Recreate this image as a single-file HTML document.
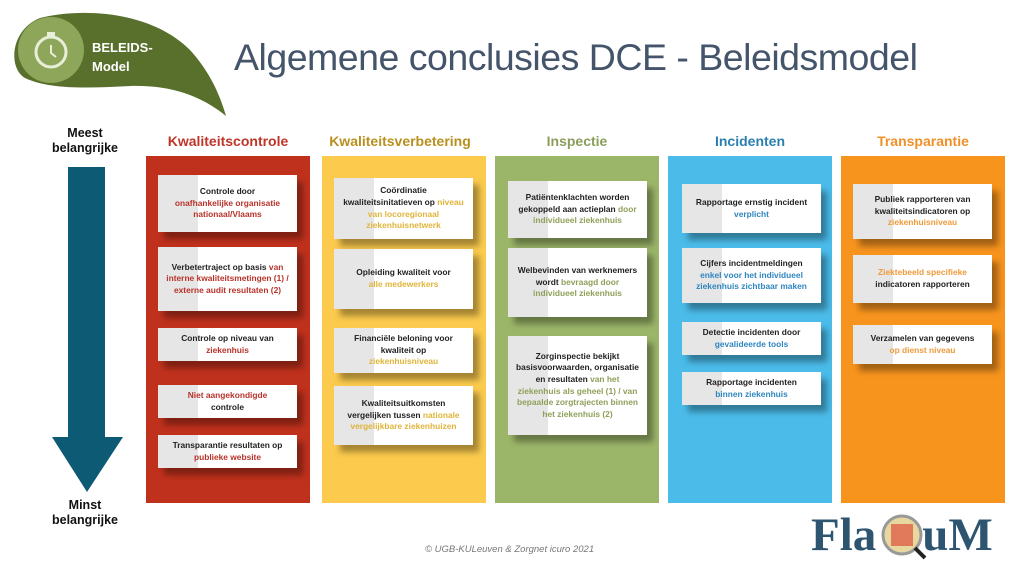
<!DOCTYPE html>
<html><head><meta charset="utf-8">
<style>
body{margin:0;width:1024px;height:576px;background:#fff;position:relative;overflow:hidden;font-family:"Liberation Sans",sans-serif;}
.abs{position:absolute;}
.col{position:absolute;top:156px;height:347px;width:164px;}
.hd{position:absolute;top:133px;width:164px;text-align:center;font-weight:bold;font-size:14px;}
.card{position:absolute;width:139px;background:linear-gradient(to right,#e6e6e6 0,#e6e6e6 40px,#fff 40px);box-shadow:6px 7px 6px rgba(0,0,0,0.35);display:flex;align-items:center;justify-content:center;text-align:center;font-weight:bold;font-size:8.4px;line-height:11.6px;color:#222;}
.card div{padding:0 7px;}
.r span{color:#b8322a}.y span{color:#e0b43a}.g span{color:#8fa05a}.b span{color:#2d86bf}.o span{color:#ef9a3a}
</style></head><body>

<svg class="abs" style="left:0;top:0" width="240" height="125">
<path d="M40,18 C80,8 150,10 190,50 C210,72 220,95 226,116 C200,95 170,85 130,86 C90,88 50,90 25,78 C8,68 10,30 40,18 Z" fill="#58702c"/>
<circle cx="51" cy="50" r="33" fill="#8ea65a"/>
<circle cx="51" cy="52" r="15" fill="none" stroke="#e8eed8" stroke-width="3"/>
<rect x="47" y="32" width="8" height="4" fill="#e8eed8"/>
<path d="M51,45 L51,53 L56,57" fill="none" stroke="#e8eed8" stroke-width="2"/>
<text x="92" y="52" fill="#fff" font-family="Liberation Sans" font-weight="bold" font-size="13">BELEIDS-</text>
<text x="92" y="71" fill="#fff" font-family="Liberation Sans" font-weight="bold" font-size="13">Model</text>
</svg>

<div class="abs" style="left:234px;top:36px;font-size:37.5px;color:#44546a;white-space:nowrap;letter-spacing:-0.5px;">Algemene conclusies DCE - Beleidsmodel</div>

<div class="abs" style="left:40px;top:126px;width:90px;text-align:center;font-weight:bold;font-size:12.5px;line-height:15px;color:#111;">Meest<br>belangrijke</div>
<div class="abs" style="left:40px;top:498px;width:90px;text-align:center;font-weight:bold;font-size:12.5px;line-height:15px;color:#111;">Minst<br>belangrijke</div>
<svg class="abs" style="left:0;top:0" width="140" height="576">
<path d="M68,167 L105,167 L105,437 L123,437 L87,492 L52,437 L68,437 Z" fill="#0c5a73"/>
</svg>

<div class="hd" style="left:146px;color:#c0352a">Kwaliteitscontrole</div>
<div class="hd" style="left:318px;color:#b8901e">Kwaliteitsverbetering</div>
<div class="hd" style="left:495px;color:#8a9d5a">Inspectie</div>
<div class="hd" style="left:668px;color:#2a7fb0">Incidenten</div>
<div class="hd" style="left:841px;color:#f0902a">Transparantie</div>

<div class="col" style="left:146px;background:#c0311d"></div>
<div class="col" style="left:322px;background:#fccb4e"></div>
<div class="col" style="left:495px;background:#9cb669"></div>
<div class="col" style="left:668px;background:#4bbcea"></div>
<div class="col" style="left:841px;background:#f7941e"></div>

<div class="card r" style="left:158px;top:175px;height:57px"><div>Controle door<br><span>onafhankelijke organisatie nationaal/Vlaams</span></div></div>
<div class="card r" style="left:158px;top:247px;height:64px"><div>Verbetertraject op basis <span>van interne kwaliteitsmetingen (1) / externe audit resultaten (2)</span></div></div>
<div class="card r" style="left:158px;top:328px;height:33px"><div>Controle op niveau van<br><span>ziekenhuis</span></div></div>
<div class="card r" style="left:158px;top:385px;height:33px"><div><span>Niet aangekondigde</span><br>controle</div></div>
<div class="card r" style="left:158px;top:435px;height:33px"><div>Transparantie resultaten op <span>publieke website</span></div></div>

<div class="card y" style="left:334px;top:178px;height:61px"><div>Coördinatie kwaliteitsinitatieven op <span>niveau van locoregionaal ziekenhuisnetwerk</span></div></div>
<div class="card y" style="left:334px;top:249px;height:60px"><div>Opleiding kwaliteit voor<br><span>alle medewerkers</span></div></div>
<div class="card y" style="left:334px;top:328px;height:45px"><div>Financiële beloning voor kwaliteit op<br><span>ziekenhuisniveau</span></div></div>
<div class="card y" style="left:334px;top:386px;height:59px"><div>Kwaliteitsuitkomsten vergelijken tussen <span>nationale vergelijkbare ziekenhuizen</span></div></div>

<div class="card g" style="left:508px;top:181px;height:57px"><div>Patiëntenklachten worden gekoppeld aan actieplan <span>door individueel ziekenhuis</span></div></div>
<div class="card g" style="left:508px;top:248px;height:69px"><div>Welbevinden van werknemers wordt <span>bevraagd door individueel ziekenhuis</span></div></div>
<div class="card g" style="left:508px;top:336px;height:99px"><div>Zorginspectie bekijkt basisvoorwaarden, organisatie en resultaten <span>van het ziekenhuis als geheel (1) / van bepaalde zorgtrajecten binnen het ziekenhuis (2)</span></div></div>

<div class="card b" style="left:682px;top:184px;height:49px"><div>Rapportage ernstig incident<br><span>verplicht</span></div></div>
<div class="card b" style="left:682px;top:248px;height:55px"><div>Cijfers incidentmeldingen <span>enkel voor het individueel ziekenhuis zichtbaar maken</span></div></div>
<div class="card b" style="left:682px;top:322px;height:33px"><div>Detectie incidenten door<br><span>gevalideerde tools</span></div></div>
<div class="card b" style="left:682px;top:372px;height:33px"><div>Rapportage incidenten<br><span>binnen ziekenhuis</span></div></div>

<div class="card o" style="left:853px;top:184px;height:55px"><div>Publiek rapporteren van kwaliteitsindicatoren op <span>ziekenhuisniveau</span></div></div>
<div class="card o" style="left:853px;top:255px;height:48px"><div><span>Ziektebeeld specifieke</span><br>indicatoren rapporteren</div></div>
<div class="card o" style="left:853px;top:325px;height:39px"><div>Verzamelen van gegevens<br><span>op dienst niveau</span></div></div>

<div class="abs" style="left:425px;top:544px;font-size:9.5px;font-style:italic;color:#777;">© UGB-KULeuven &amp; Zorgnet icuro 2021</div>

<div class="abs" style="left:811px;top:508px;font-family:'Liberation Serif',serif;font-weight:bold;font-size:47px;color:#2d5570;white-space:nowrap;">Fla<span style="display:inline-block;width:46px"></span>uM</div>
<svg class="abs" style="left:880px;top:513px" width="48" height="48">
<circle cx="22" cy="22" r="19" fill="#e8d8a0" stroke="#999" stroke-width="3"/>
<rect x="11" y="11" width="22" height="22" fill="#e07a5a"/>
<line x1="35" y1="35" x2="45" y2="45" stroke="#222" stroke-width="4"/>
</svg>
</body></html>
